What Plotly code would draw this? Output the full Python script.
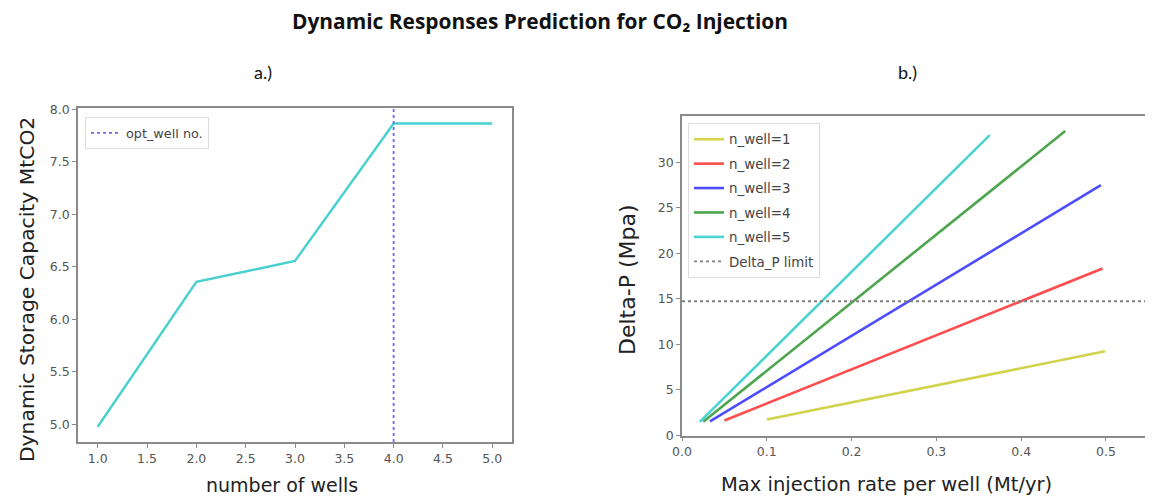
import plotly.graph_objects as go

W, H = 1153, 497
OFF = 8  # default page body margin
FW, FH = W - OFF, H - OFF

# ---- Data: panel a ----
n_wells = [1, 2, 3, 4, 5]
capacity = [4.975, 6.355, 6.555, 7.865, 7.865]
opt_well = 4

# ---- Data: panel b (start / end of each straight line) ----
series_names = ["n_well=1", "n_well=2", "n_well=3", "n_well=4", "n_well=5"]
rate_x = [[0.100, 0.499], [0.050, 0.496], [0.033, 0.494], [0.025, 0.452], [0.021, 0.363]]
dp_y = [[1.75, 9.25], [1.65, 18.35], [1.55, 27.5], [1.5, 33.45], [1.5, 33.0]]
series_colors = ["#d2d24d", "#ff4d4d", "#4d4dff", "#4da64d", "#4dd2d2"]
dp_limit = 14.75

xa_range = [0.8, 5.2]
ya_range = [4.83, 8.012]
xb_range = [0.0, 0.5555]
yb_range = [0.0, 35.1]

xa_ticks = [1.0, 1.5, 2.0, 2.5, 3.0, 3.5, 4.0, 4.5, 5.0]
ya_ticks = [5.0, 5.5, 6.0, 6.5, 7.0, 7.5, 8.0]
xb_ticks = [0.0, 0.1, 0.2, 0.3, 0.4, 0.5]
yb_ticks = [0, 5, 10, 15, 20, 25, 30]


def px_x(p):
    return (p - OFF) / FW


def px_y(p):
    return 1 - (p - OFF) / FH


fig = go.Figure()

# panel a
fig.add_trace(go.Scatter(x=n_wells, y=capacity, mode="lines", line=dict(color="#48d0d0", width=2.4),
                         showlegend=False, xaxis="x", yaxis="y"))
fig.add_trace(go.Scatter(x=[opt_well, opt_well], y=ya_range, mode="lines",
                         line=dict(color="#6a6aff", width=1.8, dash="dot"),
                         name="opt_well no.", legend="legend", xaxis="x", yaxis="y"))

# panel b
for name, xs, ys, c in zip(series_names, rate_x, dp_y, series_colors):
    fig.add_trace(go.Scatter(x=xs, y=ys, mode="lines", line=dict(color=c, width=2.6),
                             name=name, legend="legend2", legendgroup=name, xaxis="x2", yaxis="y2"))
fig.add_trace(go.Scatter(x=xb_range, y=[dp_limit, dp_limit], mode="lines",
                         line=dict(color="#808080", width=1.8, dash="dot"),
                         name="Delta_P limit", legend="legend2", legendgroup="lim", xaxis="x2", yaxis="y2"))

axis_common = dict(showgrid=False, zeroline=False, showline=True, linecolor="#8a8a8a", linewidth=1.5,
                   mirror=True, ticks="outside", ticklen=4, tickcolor="#8a8a8a", automargin=False,
                   tickfont=dict(family="DejaVu Sans", size=12.5, color="#555555"))

fig.update_layout(
    width=FW, height=FH,
    margin=dict(l=0, r=0, t=0, b=0, autoexpand=False),
    paper_bgcolor="white", plot_bgcolor="white",
    xaxis=dict(domain=[px_x(78), px_x(512)], range=xa_range, tickvals=xa_ticks, tickformat=".1f",
               anchor="y", **axis_common),
    yaxis=dict(domain=[px_y(442), px_y(108)], range=ya_range, tickvals=ya_ticks, tickformat=".1f",
               anchor="x", **axis_common),
    xaxis2=dict(domain=[px_x(682), 1.0], range=xb_range, tickvals=xb_ticks, tickformat=".1f",
                anchor="y2", **axis_common),
    yaxis2=dict(domain=[px_y(435.5), px_y(116)], range=yb_range, tickvals=yb_ticks,
                anchor="x2", **axis_common),
    legend=dict(x=px_x(85), y=px_y(117), xanchor="left", yanchor="top", itemwidth=30,
                bgcolor="white", bordercolor="#dddddd", borderwidth=1,
                font=dict(family="DejaVu Sans", size=12.8, color="#444444")),
    legend2=dict(x=px_x(688), y=px_y(123), xanchor="left", yanchor="top", itemwidth=30,
                 bgcolor="white", bordercolor="#dddddd", borderwidth=1, tracegroupgap=4,
                 traceorder="grouped",
                 font=dict(family="DejaVu Sans", size=13.4, color="#444444")),
    showlegend=True,
)

ann = []
ann.append(dict(text="<b>Dynamic Responses Prediction for CO₂ Injection</b>",
                x=px_x(540), y=px_y(21), xref="paper", yref="paper", showarrow=False,
                xanchor="center", yanchor="middle", font=dict(family="Open Sans", size=20.9, color="#111111")))
ann.append(dict(text="a.)", x=px_x(263), y=px_y(72), xref="paper", yref="paper", showarrow=False,
                xanchor="center", yanchor="middle", font=dict(family="Lato", size=18, color="#111111")))
ann.append(dict(text="b.)", x=px_x(907), y=px_y(72), xref="paper", yref="paper", showarrow=False,
                xanchor="center", yanchor="middle", font=dict(family="Lato", size=18, color="#111111")))
ann.append(dict(text="Dynamic Storage Capacity MtCO2", x=px_x(27), y=px_y(290), xref="paper", yref="paper",
                showarrow=False, textangle=-90, xanchor="center", yanchor="middle",
                font=dict(family="DejaVu Sans", size=20.3, color="#222222")))
ann.append(dict(text="number of wells", x=px_x(282), y=px_y(485), xref="paper", yref="paper",
                showarrow=False, xanchor="center", yanchor="middle",
                font=dict(family="DejaVu Sans", size=19, color="#222222")))
ann.append(dict(text="Delta-P (Mpa)", x=px_x(627), y=px_y(280), xref="paper", yref="paper",
                showarrow=False, textangle=-90, xanchor="center", yanchor="middle",
                font=dict(family="DejaVu Sans", size=22, color="#222222")))
ann.append(dict(text="Max injection rate per well (Mt/yr)", x=px_x(887), y=px_y(484), xref="paper",
                yref="paper", showarrow=False, xanchor="center", yanchor="middle",
                font=dict(family="DejaVu Sans", size=19.5, color="#222222")))
fig.update_layout(annotations=ann)

fig.write_html("out.html")
